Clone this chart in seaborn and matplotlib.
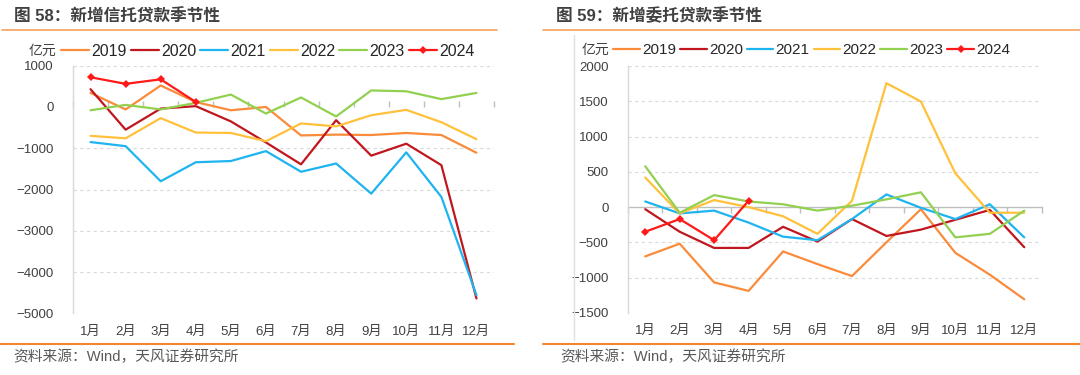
import numpy as np
import pandas as pd
import seaborn as sns
import matplotlib.pyplot as plt
from matplotlib.lines import Line2D

months = ["1月", "2月", "3月", "4月", "5月", "6月", "7月", "8月", "9月", "10月", "11月", "12月"]
years = ["2019", "2020", "2021", "2022", "2023", "2024"]

# 新增信托贷款 (亿元)
trust_2019 = [340, -60, 520, 120, -80, 0, -690, -670, -680, -630, -680, -1110]
trust_2020 = [430, -550, -40, 20, -350, -860, -1390, -320, -1180, -890, -1410, -4640]
trust_2021 = [-850, -950, -1800, -1340, -1310, -1070, -1570, -1370, -2100, -1100, -2180, -4560]
trust_2022 = [-700, -760, -270, -620, -630, -830, -400, -470, -200, -70, -370, -780]
trust_2023 = [-80, 50, -60, 100, 300, -160, 230, -230, 400, 380, 190, 340]
trust_2024 = [720, 560, 670, 120]

# 新增委托贷款 (亿元)
entr_2019 = [-700, -520, -1070, -1190, -630, -810, -980, -500, -30, -650, -960, -1310]
entr_2020 = [-30, -350, -580, -580, -280, -490, -170, -410, -320, -180, -40, -570]
entr_2021 = [80, -90, -50, -220, -420, -470, -170, 180, -10, -170, 40, -430]
entr_2022 = [420, -90, 100, 0, -130, -380, 90, 1760, 1500, 480, -80, -80]
entr_2023 = [580, -80, 170, 80, 40, -50, 20, 110, 210, -430, -380, -50]
entr_2024 = [-350, -170, -470, 90]

colors = {"2019": "#F98B3A", "2020": "#C0161E", "2021": "#1EB4F0",
          "2022": "#FFC13B", "2023": "#92D050", "2024": "#FF1A1A"}

trust = dict(zip(years, [trust_2019, trust_2020, trust_2021, trust_2022, trust_2023, trust_2024]))
entr = dict(zip(years, [entr_2019, entr_2020, entr_2021, entr_2022, entr_2023, entr_2024]))

sns.set_theme(style="white")
plt.rcParams["font.family"] = ["Liberation Sans", "Noto Sans CJK SC", "DejaVu Sans"]
plt.rcParams["axes.unicode_minus"] = True

W, H = 1080, 375
fig = plt.figure(figsize=(10.8, 3.75), dpi=100)


def px(x0, y0, x1, y1):
    return [x0 / W, 1 - y1 / H, (x1 - x0) / W, (y1 - y0) / H]


def draw_panel(ax, data, ylim, step, legend_x, legend_y, unit_x, leg_size):
    for yr in years:
        vals = data[yr]
        sns.lineplot(x=np.arange(len(vals)), y=vals, ax=ax, color=colors[yr], linewidth=1.6,
                     marker="D" if yr == "2024" else None, markersize=4.5,
                     markeredgewidth=0, label=yr, legend=False)
    ax.set_xlim(-0.5, 11.5)
    ax.set_ylim(*ylim)
    ticks = np.arange(ylim[0], ylim[1] + 1, step)
    ax.set_yticks(ticks)
    ax.set_yticklabels([f"{t:d}".replace("-", "\u2212") for t in ticks])
    ax.set_xticks(np.arange(12))
    ax.set_xticklabels(months)
    ax.tick_params(axis="x", length=0, pad=9, labelsize=9.5, colors="#404040")
    ax.tick_params(axis="y", length=0, pad=14, labelsize=9.5, colors="#404040")
    for t in ticks:
        if t != 0:
            ax.axhline(t, color="#d9d9d9", linestyle=(0, (3, 3)), linewidth=0.8, zorder=0)
    for s in ["top", "right", "bottom"]:
        ax.spines[s].set_visible(False)
    ax.spines["left"].set_color("#d9d9d9")
    ax.spines["left"].set_linewidth(1.0)
    # zero axis with boundary ticks
    frac = -ylim[0] / (ylim[1] - ylim[0])
    sec = ax.secondary_xaxis(frac)
    sec.set_xticks(np.arange(-0.5, 12, 1))
    sec.set_xticklabels([])
    sec.tick_params(direction="out", length=4, color="#bfbfbf", width=1)
    sec.spines["bottom"].set_color("#bfbfbf")
    sec.spines["bottom"].set_linewidth(1.0)
    for s in ["top", "left", "right"]:
        sec.spines[s].set_visible(False)
    handles = [Line2D([], [], color=colors[y], linewidth=1.6,
                      marker="D" if y == "2024" else None, markersize=4.5, markeredgewidth=0)
               for y in years]
    ax.legend(handles, years, loc="center left", bbox_to_anchor=(legend_x / W, 1 - legend_y / H),
              bbox_transform=fig.transFigure, ncol=6, frameon=False, fontsize=leg_size,
              handlelength=1.75, handletextpad=0.15, columnspacing=0.25, borderpad=0,
              borderaxespad=0)
    fig.text(unit_x / W, 1 - legend_y / H, "亿元", fontsize=10, color="#404040",
             va="center", ha="left")


ax1 = fig.add_axes(px(73, 65.7, 494, 313.3))
draw_panel(ax1, trust, (-5000, 1000), 1000, 61, 51, 29, 11.5)

ax2 = fig.add_axes(px(628, 66.3, 1041.5, 312.7))
draw_panel(ax2, entr, (-1500, 2000), 500, 613, 50, 582, 11)

# titles, rules and sources
fig.text(14 / W, 1 - 16 / H, "图 58：新增信托贷款季节性", fontsize=12, fontweight="bold",
         color="#404040", va="center")
fig.text(556 / W, 1 - 16 / H, "图 59：新增委托贷款季节性", fontsize=12, fontweight="bold",
         color="#404040", va="center")
fig.add_artist(Line2D([2 / W, 497 / W], [1 - 29.5 / H] * 2, color="#F7A15E", linewidth=1.2))
fig.add_artist(Line2D([543 / W, 1], [1 - 30 / H] * 2, color="#F7A15E", linewidth=1.2))
fig.add_artist(Line2D([0, 514 / W], [1 - 344 / H] * 2, color="#F5852A", linewidth=1.5))
fig.add_artist(Line2D([543 / W, 1], [1 - 344 / H] * 2, color="#F5852A", linewidth=1.5))
fig.add_artist(Line2D([574 / W] * 2, [1 - 35 / H, 1 - 340 / H], color="#e0e0e0", linewidth=1.0))
fig.text(13 / W, 1 - 357 / H, "资料来源：Wind，天风证券研究所", fontsize=10.6, color="#595959",
         va="center")
fig.text(560 / W, 1 - 357 / H, "资料来源：Wind，天风证券研究所", fontsize=10.6, color="#595959",
         va="center")

fig.savefig("out.png", dpi=100)
